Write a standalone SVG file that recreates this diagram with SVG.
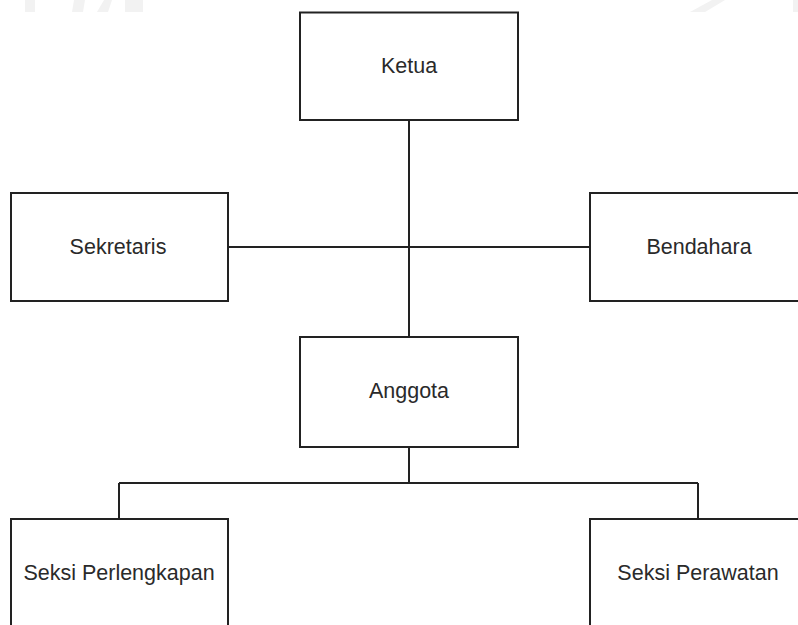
<svg xmlns="http://www.w3.org/2000/svg" width="798" height="625" viewBox="0 0 798 625">
<style>
.box{fill:#ffffff;stroke:#222222;stroke-width:2}
.lbl{font-family:"Liberation Sans",Arial,sans-serif;font-size:21.5px;fill:#2a2a2a;text-anchor:middle;dominant-baseline:central}
.wm{fill:#f2f2f2;stroke:none}
.edge{fill:none;stroke:#222222;stroke-width:2}
</style>
<rect width="798" height="625" fill="#ffffff"/>
<g id="watermark">
<rect class="wm" x="25" y="0" width="10" height="12"/>
<polygon class="wm" points="74,0 85,0 83,12 72,12"/>
<polygon class="wm" points="104,0 112,0 108,12 97,12"/>
<rect class="wm" x="125" y="0" width="18" height="12"/>
<polygon class="wm" points="712,0 725,0 705,12 690,12"/>
<rect class="wm" x="793" y="0" width="5" height="12"/>
</g>
<g id="connectors">
<path class="edge" d="M409 120 V337"/>
<path class="edge" d="M228 247 H590"/>
<path class="edge" d="M409 447 V483 M119 483 H698 M119 483 V519 M698 483 V519"/>
</g>
<g id="ketua">
<rect class="box" x="300" y="12.5" width="218" height="107.5"/>
<text class="lbl" x="409" y="66">Ketua</text>
</g>
<g id="sekretaris">
<rect class="box" x="11" y="193" width="217" height="108"/>
<text class="lbl" x="118" y="247">Sekretaris</text>
</g>
<g id="bendahara">
<rect class="box" x="590" y="193" width="218" height="108"/>
<text class="lbl" x="699" y="247">Bendahara</text>
</g>
<g id="anggota">
<rect class="box" x="300" y="337" width="218" height="110"/>
<text class="lbl" x="409" y="391">Anggota</text>
</g>
<g id="seksi-perlengkapan">
<rect class="box" x="11" y="519" width="217" height="120"/>
<text class="lbl" x="119" y="573">Seksi Perlengkapan</text>
</g>
<g id="seksi-perawatan">
<rect class="box" x="590" y="519" width="218" height="120"/>
<text class="lbl" x="698" y="573">Seksi Perawatan</text>
</g>
</svg>
